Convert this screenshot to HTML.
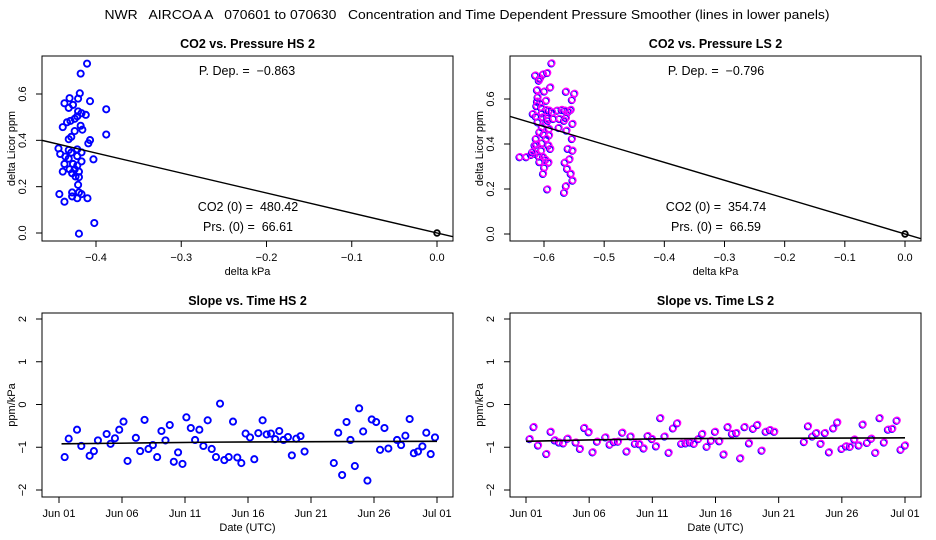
<!DOCTYPE html>
<html><head><meta charset="utf-8"><style>
html,body{margin:0;padding:0;background:#fff}
svg{display:block;font-family:"Liberation Sans",sans-serif}
text{white-space:pre}
</style></head><body>
<svg id="c" width="936" height="540" viewBox="0 0 936 540" xmlns="http://www.w3.org/2000/svg">
<rect width="936" height="540" fill="#fff"/>
<text x="467" y="19" font-size="13" text-anchor="middle" textLength="725" lengthAdjust="spacingAndGlyphs" xml:space="preserve">NWR   AIRCOA A   070601 to 070630   Concentration and Time Dependent Pressure Smoother (lines in lower panels)</text>
</svg>
<script>
// ---- data ----
const hsSlope = -0.863, lsSlope = -0.796;
const hsCO2 = "480.42", hsPrs = "66.61", lsCO2 = "354.74", lsPrs = "66.59";
const hsPx = [-0.4105,-0.418,-0.419,-0.421,-0.431,-0.407,-0.437,-0.427,-0.432,-0.388,-0.421,-0.417,-0.412,-0.422,-0.425,-0.430,-0.434,-0.439,-0.418,-0.416,-0.425,-0.388,-0.429,-0.432,-0.407,-0.409,-0.444,-0.432,-0.422,-0.429,-0.417,-0.442,-0.436,-0.422,-0.403,-0.432,-0.417,-0.437,-0.427,-0.422,-0.431,-0.425,-0.439,-0.420,-0.428,-0.424,-0.420,-0.421,-0.428,-0.420,-0.443,-0.417,-0.428,-0.422,-0.410,-0.437,-0.402,-0.420];
const hsPy = [0.731,0.688,0.603,0.580,0.582,0.569,0.560,0.553,0.540,0.534,0.525,0.517,0.510,0.504,0.493,0.484,0.478,0.457,0.463,0.446,0.440,0.425,0.415,0.405,0.401,0.387,0.365,0.358,0.361,0.347,0.348,0.341,0.330,0.332,0.318,0.321,0.309,0.298,0.298,0.291,0.275,0.275,0.265,0.265,0.258,0.244,0.241,0.208,0.175,0.175,0.168,0.168,0.158,0.150,0.150,0.135,0.043,-0.003];
const lsPx = [-0.587,-0.614,-0.606,-0.601,-0.594,-0.608,-0.589,-0.611,-0.599,-0.563,-0.549,-0.596,-0.553,-0.611,-0.606,-0.612,-0.604,-0.596,-0.555,-0.559,-0.618,-0.603,-0.591,-0.578,-0.570,-0.565,-0.613,-0.602,-0.594,-0.574,-0.563,-0.566,-0.552,-0.610,-0.596,-0.603,-0.591,-0.575,-0.562,-0.607,-0.600,-0.591,-0.613,-0.596,-0.553,-0.603,-0.612,-0.592,-0.560,-0.589,-0.552,-0.604,-0.614,-0.621,-0.608,-0.601,-0.629,-0.597,-0.557,-0.565,-0.592,-0.607,-0.599,-0.561,-0.601,-0.555,-0.552,-0.563,-0.594,-0.566,-0.586,-0.610,-0.593,-0.615,-0.619,-0.584,-0.640];
const lsPy = [0.760,0.706,0.693,0.711,0.717,0.683,0.653,0.641,0.635,0.634,0.625,0.594,0.597,0.590,0.582,0.570,0.562,0.553,0.553,0.545,0.535,0.538,0.550,0.550,0.553,0.550,0.523,0.520,0.517,0.513,0.517,0.505,0.491,0.498,0.491,0.476,0.468,0.473,0.461,0.454,0.443,0.440,0.424,0.424,0.424,0.405,0.399,0.395,0.380,0.380,0.372,0.372,0.358,0.353,0.346,0.343,0.343,0.331,0.334,0.319,0.319,0.321,0.296,0.291,0.269,0.269,0.239,0.214,0.200,0.185,0.542,0.609,0.505,0.395,0.365,0.513,0.343];
const hsDay = [0.45,0.77,1.43,1.77,2.43,2.77,3.09,3.78,4.09,4.44,4.78,5.12,5.44,6.1,6.44,6.79,7.1,7.45,7.79,8.13,8.45,8.79,9.11,9.45,9.8,10.11,10.46,10.8,11.14,11.46,11.8,12.12,12.46,12.78,13.12,13.47,13.81,14.15,14.47,14.81,15.16,15.5,15.82,16.16,16.48,16.82,17.16,17.48,17.82,18.17,18.48,18.83,19.17,19.49,21.81,22.16,22.47,22.82,23.13,23.48,23.82,24.14,24.48,24.82,25.17,25.48,25.83,26.14,26.83,27.15,27.49,27.83,28.16,28.49,28.84,29.15,29.5,29.84];
const hsVal = [-1.23,-0.80,-0.59,-0.97,-1.2,-1.09,-0.84,-0.69,-0.92,-0.79,-0.59,-0.40,-1.32,-0.78,-1.09,-0.36,-1.04,-0.95,-1.23,-0.62,-0.84,-0.48,-1.34,-1.12,-1.39,-0.30,-0.55,-0.83,-0.59,-0.97,-0.37,-1.04,-1.23,0.02,-1.30,-1.23,-0.40,-1.24,-1.37,-0.68,-0.77,-1.28,-0.67,-0.37,-0.70,-0.68,-0.81,-0.62,-0.83,-0.76,-1.19,-0.80,-0.74,-1.10,-1.37,-0.66,-1.65,-0.41,-0.83,-1.44,-0.09,-0.63,-1.78,-0.35,-0.41,-1.06,-0.55,-1.03,-0.83,-0.95,-0.73,-0.34,-1.14,-1.10,-0.98,-0.66,-1.16,-0.77];
const lsDay = [0.32,0.63,0.98,1.64,1.98,2.3,2.64,2.98,3.32,3.96,4.3,4.64,4.99,5.3,5.65,6.31,6.65,6.99,7.31,7.65,7.99,8.31,8.65,9.0,9.34,9.66,10.0,10.32,10.66,11.0,11.32,11.66,12.0,12.32,12.66,13.0,13.32,13.67,13.98,14.33,14.67,14.99,15.33,15.67,15.99,16.33,16.68,16.99,17.33,17.68,18.0,18.34,18.68,19.0,19.34,19.68,22.03,22.35,22.69,23.01,23.35,23.69,24.01,24.35,24.67,25.01,25.36,25.67,26.02,26.36,26.68,27.02,27.36,27.68,28.02,28.36,28.68,29.02,29.37,29.68,30.03];
const lsVal = [-0.80,-0.52,-0.95,-1.15,-0.63,-0.83,-0.88,-0.90,-0.79,-0.88,-1.03,-0.54,-0.64,-1.11,-0.86,-0.76,-0.93,-0.87,-0.86,-0.65,-1.09,-0.74,-0.91,-0.92,-1.02,-0.73,-0.80,-0.97,-0.31,-0.74,-1.12,-0.55,-0.43,-0.91,-0.90,-0.88,-0.91,-0.80,-0.68,-0.98,-0.84,-0.63,-0.85,-1.16,-0.52,-0.68,-0.66,-1.25,-0.52,-0.90,-0.56,-0.47,-1.07,-0.63,-0.59,-0.63,-0.87,-0.50,-0.74,-0.66,-0.91,-0.66,-1.11,-0.55,-0.41,-1.03,-0.97,-0.98,-0.81,-0.95,-0.46,-0.89,-0.79,-1.12,-0.31,-0.88,-0.58,-0.56,-0.37,-1.05,-0.95];
const hsSmDay = [0.2,6.5,12.5,30];
const hsSmVal = [-0.92,-0.9,-0.88,-0.86];
const lsSmDay = [0,5,11,30];
const lsSmVal = [-0.86,-0.83,-0.8,-0.78];
const pTicks = [-0.4,-0.3,-0.2,-0.1,0.0];
const pTicksLS = [-0.6,-0.5,-0.4,-0.3,-0.2,-0.1,0.0];
const yTicksTop = [0.0,0.2,0.4,0.6];
const sTicks = [-2,-1,0,1,2];
const dayTicks = [0,5,10,15,20,25,30];
const dayLabels = ["Jun 01","Jun 06","Jun 11","Jun 16","Jun 21","Jun 26","Jul 01"];

const svg = document.getElementById('c');
const NS = "http://www.w3.org/2000/svg";
function mk(tag, attrs, parent){const e=document.createElementNS(NS,tag);for(const k in attrs)e.setAttribute(k,attrs[k]);(parent||svg).appendChild(e);return e;}
function lin(d0,d1,r0,r1){return v=>r0+(v-d0)*(r1-r0)/(d1-d0);}

function panel(o){
  const g=mk('g',{});
  
  
  const t=mk('text',{x:(o.L+o.R)/2,y:o.T-8,'font-size':12.5,'font-weight':'bold','text-anchor':'middle'},g);
  t.textContent=o.title;
  
  
  const box=mk('rect',{x:o.L,y:o.T,width:o.R-o.L,height:o.B-o.T,fill:'none',stroke:'#000','stroke-width':1},g);
  
  
  const xa=mk('g',{},g);
  
  
  const xs=o.xTicks.map(o.sx);
  mk('line',{x1:xs[0],x2:xs[xs.length-1],y1:o.B,y2:o.B,stroke:'#000'},xa);
  o.xTicks.forEach((v,i)=>{
    const x=o.sx(v);
    mk('line',{x1:x,x2:x,y1:o.B,y2:o.B+6,stroke:'#000'},xa);
    const tx=mk('text',{x:x,y:o.B+20,'font-size':11,'text-anchor':'middle'},xa);
    tx.textContent=o.xLab(v,i);
    
    
  });
  const xl=mk('text',{x:(o.L+o.R)/2,y:o.B+34,'font-size':11,'text-anchor':'middle'},g);
  xl.textContent=o.xTitle;
  
  
  const ya=mk('g',{},g);
  
  
  const ys=o.yTicks.map(o.sy);
  mk('line',{x1:o.L,x2:o.L,y1:ys[0],y2:ys[ys.length-1],stroke:'#000'},ya);
  o.yTicks.forEach(v=>{
    const y=o.sy(v);
    mk('line',{x1:o.L-6,x2:o.L,y1:y,y2:y,stroke:'#000'},ya);
    const lx=o.L-16;
    const tx=mk('text',{x:lx,y:y,'font-size':11,'text-anchor':'middle',transform:`rotate(-90 ${lx} ${y})`},ya);
    tx.textContent=o.yLab(v);
    
    
  });
  const cy=(o.T+o.B)/2;
  const tx2=o.L-27;
  const yl=mk('text',{x:tx2,y:cy,'font-size':11,'text-anchor':'middle',transform:`rotate(-90 ${tx2} ${cy})`},g);
  yl.textContent=o.yTitle;
  
  
  const clip='cl'+o.name;
  const cp=mk('clipPath',{id:clip},g);
  mk('rect',{x:o.L,y:o.T,width:o.R-o.L,height:o.B-o.T},cp);
  const inner=mk('g',{'clip-path':`url(#${clip})`},g);
  return inner;
}
function pts(g,xs,ys,sx,sy,ls){
  xs.forEach((x,i)=>{
    const cx=sx(x),cy=sy(ys[i]);
    if(ls){
      const c0=mk('circle',{cx:cx-0.6,cy:cy+0.6,r:3.1,fill:'none',stroke:'#0000ff','stroke-width':1.6},g);
      
      
      const c=mk('circle',{cx:cx,cy:cy,r:3.1,fill:'none',stroke:'#ff00ff','stroke-width':1.4},g);
      
      
    } else {
      const c=mk('circle',{cx:cx,cy:cy,r:3.1,fill:'none',stroke:'#0000ff','stroke-width':1.9},g);
      
      
    }
  });
}
function note(g,x,y,s,name){const t=mk('text',{x:x,y:y,'font-size':12.5,'text-anchor':'middle'},g);t.textContent=s;}
function fmt(v){return v.toFixed(1).replace('-','\u2212');}

{
  const L=42,R=453,T=56,B=241;
  const sx=lin(-0.4,0,96,437), sy=lin(0,0.6,233,94);
  const g=panel({name:'panel-co2-pressure-hs',title:'CO2 vs. Pressure HS 2',L,R,T,B,sx,sy,xTicks:pTicks,yTicks:yTicksTop,xLab:v=>fmt(v),yLab:v=>v.toFixed(1),xTitle:'delta kPa',yTitle:'delta Licor ppm'});
  pts(g,hsPx,hsPy,sx,sy,false);
  const inv=p=>-0.4+(p-96)/852.5;
  const ln=mk('line',{x1:L,y1:sy(hsSlope*inv(L)),x2:R,y2:sy(hsSlope*inv(R)),stroke:'#000','stroke-width':1.4},g);
  
  
  const o=mk('circle',{cx:sx(0),cy:sy(0),r:2.8,fill:'none',stroke:'#000','stroke-width':1.8},g);
  
  
  note(svg,247,75,'P. Dep. =  \u22120.863','p-dep-label');
  note(svg,248,211,'CO2 (0) =  '+hsCO2,'co2-zero-label');
  note(svg,248,231,'Prs. (0) =  '+hsPrs,'prs-zero-label');
}
{
  const L=510,R=921,T=56,B=241;
  const sx=lin(-0.6,0,544,905), sy=lin(0,0.6,234,99);
  const g=panel({name:'panel-co2-pressure-ls',title:'CO2 vs. Pressure LS 2',L,R,T,B,sx,sy,xTicks:pTicksLS,yTicks:yTicksTop,xLab:v=>fmt(v),yLab:v=>v.toFixed(1),xTitle:'delta kPa',yTitle:'delta Licor ppm'});
  pts(g,lsPx,lsPy,sx,sy,true);
  const inv=p=>-0.6+(p-544)/601.7;
  const ln=mk('line',{x1:L,y1:sy(lsSlope*inv(L)),x2:R,y2:sy(lsSlope*inv(R)),stroke:'#000','stroke-width':1.4},g);
  
  
  const o=mk('circle',{cx:sx(0),cy:sy(0),r:2.8,fill:'none',stroke:'#000','stroke-width':1.8},g);
  
  
  note(svg,716,75,'P. Dep. =  \u22120.796','p-dep-label');
  note(svg,716,211,'CO2 (0) =  '+lsCO2,'co2-zero-label');
  note(svg,716,231,'Prs. (0) =  '+lsPrs,'prs-zero-label');
}
function slopePanel(name,title,L,R,x0,x30,days,vals,smD,smV,ls){
  const T=313,B=497;
  const sx=lin(0,30,x0,x30), sy=lin(-2,2,490,319);
  const g=panel({name,title,L,R,T,B,sx,sy,xTicks:dayTicks,yTicks:sTicks,xLab:(v,i)=>dayLabels[i],yLab:v=>String(v).replace('-','\u2212'),xTitle:'Date (UTC)',yTitle:'ppm/kPa'});
  pts(g,days,vals,sx,sy,ls);
  const p=mk('polyline',{points:smD.map((d,i)=>sx(d)+','+sy(smV[i])).join(' '),fill:'none',stroke:'#000','stroke-width':1.6},g);
  
  
}
slopePanel('panel-slope-time-hs','Slope vs. Time HS 2',42,453,59,437,hsDay,hsVal,hsSmDay,hsSmVal,false);
slopePanel('panel-slope-time-ls','Slope vs. Time LS 2',510,921,526,905,lsDay,lsVal,lsSmDay,lsSmVal,true);
</script>
</body></html>
